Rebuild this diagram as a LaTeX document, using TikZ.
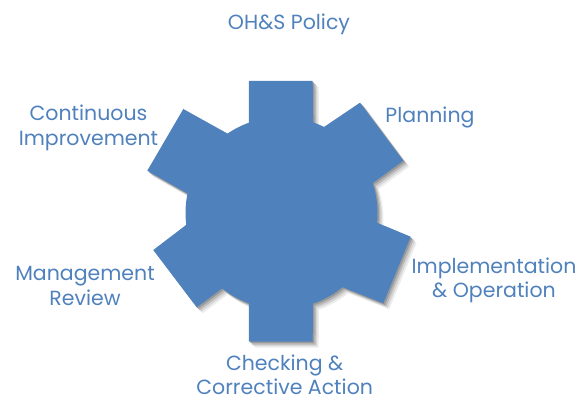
\documentclass[tikz,border=0pt]{standalone}
\usepackage{fontspec}
\setmainfont{Poppins}
\usetikzlibrary{calc}
\definecolor{gearblue}{HTML}{4F81BD}
\newcommand\gearpath{%
  ($(281.5,213)+(-109.9:96)$) -- (249,81) -- (312.7,81) --
  ($(281.5,213)+(-70.8:96)$) arc[start angle=-70.8,end angle=-63.7,radius=96] --
  (360,102.7) -- (403.3,160.7) --
  ($(281.5,213)+(-18.2:96)$) arc[start angle=-18.2,end angle=5.8,radius=96] --
  (410.7,236.7) -- (383.3,303.3) --
  ($(281.5,213)+(50.6:96)$) arc[start angle=50.6,end angle=70.9,radius=96] --
  (312.7,341.7) -- (249,341.7) --
  ($(281.5,213)+(109.9:96)$) arc[start angle=109.9,end angle=128.2,radius=96] --
  (196.7,307.3) -- (153.3,250) --
  ($(281.5,213)+(172.9:96)$) arc[start angle=172.9,end angle=191.7,radius=96] --
  (147.3,170.7) -- (183.3,109) --
  ($(281.5,213)+(235.8:96)$) arc[start angle=235.8,end angle=250.1,radius=96] -- cycle}
\newcommand\twoline[3][0pt]{\begin{tabular}[t]{@{}c@{}}#2\\[#1]#3\end{tabular}}
\begin{document}
\begin{tikzpicture}[x=1pt,y=-1pt,
  lbl/.style={text=gearblue,font=\fontsize{20.5}{24.4}\selectfont,inner sep=0pt,anchor=base}]
\useasboundingbox (0,0) rectangle (582,401);
\fill[black!7,shift={(6,6)}] \gearpath;
\fill[black!16,shift={(4.5,4.5)}] \gearpath;
\fill[black!28,shift={(3,3)}] \gearpath;
\fill[black!40,shift={(1.5,1.5)}] \gearpath;
\fill[gearblue] \gearpath;
\node[lbl] (policy) at (289,29.3) {OH\&S Policy};
\node[lbl] (plan) at (430,122.3) {Planning};
\node[lbl] (impl) at (494,273.3) {\twoline{Implementation}{\& Operation}};
\node[lbl] (check) at (284.7,370.5) {\twoline[-0.5pt]{Checking \&}{Corrective Action}};
\node[lbl] (mgmt) at (85,280.7) {\twoline{Management}{Review}};
\node[lbl] (cont) at (88.5,120.7) {\twoline{Continuous}{Improvement}};
\end{tikzpicture}
\end{document}
